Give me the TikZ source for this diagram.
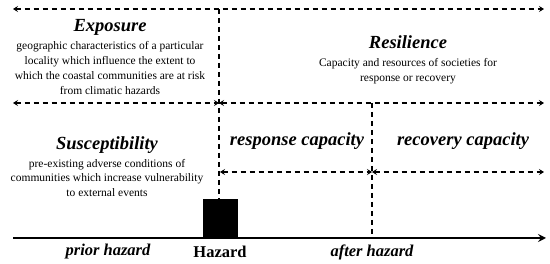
\documentclass[tikz,border=0pt]{standalone}
\usepackage{fontspec}
\setmainfont{Liberation Serif}
\usetikzlibrary{arrows.meta}
\begin{document}
\begin{tikzpicture}[x=1pt,y=-1pt,
  dline/.style={line width=1.3pt, dash pattern=on 5.5pt off 3.5pt},
  darrow/.style={dline, {Stealth[length=5pt,width=6pt,inset=2pt]}-{Stealth[length=5pt,width=6pt,inset=2pt]}},
  title/.style={font=\fontsize{18.5}{20}\selectfont\bfseries\itshape, inner sep=0pt},
  desc/.style={font=\fontsize{11.5}{14.7}\selectfont, align=center, inner sep=0pt},
  tlabel/.style={font=\fontsize{16.5}{18}\selectfont\bfseries\itshape, inner sep=0pt}]
\useasboundingbox (0,0) rectangle (550,264);
% coordinates
\coordinate (tl) at (13,9);
\coordinate (tr) at (544,9);
\coordinate (tm) at (219,9);
\coordinate (ml) at (13,103);
\coordinate (mm) at (219,103);
\coordinate (mr) at (544,103);
\coordinate (rm) at (372,103);
\coordinate (ll) at (220,172);
\coordinate (lm) at (372,172);
\coordinate (lr) at (544,172);
\coordinate (ax0) at (13,238);
\coordinate (ax1) at (546,238);
\coordinate (am) at (372,238);
% hazard box
\node[fill=black, minimum width=35pt, minimum height=39pt, inner sep=0pt, anchor=south] (hz) at (220.5,238) {};
% arrows
\draw[darrow] (tl) -- (tr);
\draw[darrow] (ml) -- (mm);
\draw[darrow] (mm) -- (mr);
\draw[darrow] (ll) -- (lm);
\draw[darrow] (lm) -- (lr);
\draw[dline] (tm) -- (hz.north -| tm);
\draw[dline] (rm) -- (am);
\draw[line width=2pt, -{Stealth[length=8pt,width=8pt,inset=3pt]}] (ax0) -- (ax1);
% texts
\node[title] (exp) at (110,27) {Exposure};
\node[desc] (expd) at (110,68) {geographic characteristics of a particular\\locality which influence the extent to\\which the coastal communities are at risk\\from climatic hazards};
\node[title] (res) at (408,42) {Resilience};
\node[desc] (resd) at (408,71) {Capacity and resources of societies for\\response or recovery};
\node[title] (sus) at (107,145) {Susceptibility};
\node[desc] (susd) at (107,178) {pre-existing adverse conditions of\\communities which increase vulnerability\\to external events};
\node[title] (rsp) at (297,141) {response capacity};
\node[title] (rec) at (463,141) {recovery capacity};
\node[tlabel] (pri) at (108,252) {prior hazard};
\node[font=\fontsize{16.5}{18}\selectfont\bfseries, inner sep=0pt] (hzl) at (220,252) {Hazard};
\node[tlabel] (aft) at (372,252) {after hazard};
\end{tikzpicture}
\end{document}
